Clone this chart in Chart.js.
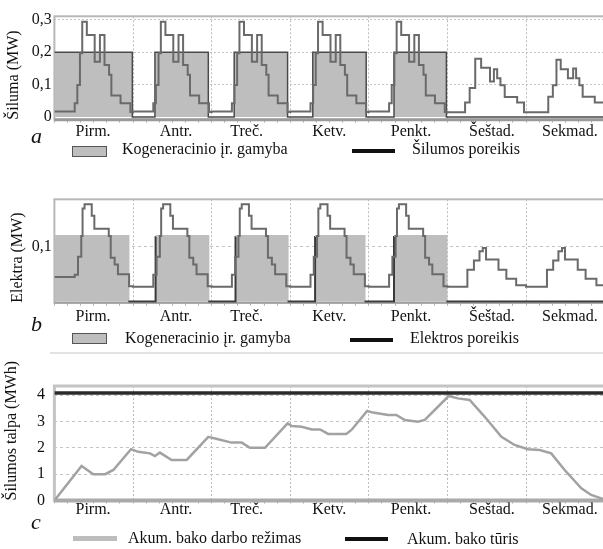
<!DOCTYPE html>
<html><head><meta charset="utf-8">
<script src="https://cdn.jsdelivr.net/npm/chart.js@4.4.0/dist/chart.umd.min.js"></script>
<style>
html,body{margin:0;padding:0;background:#fff;width:603px;height:549px;overflow:hidden;position:relative;font-family:"Liberation Serif","Times New Roman",serif;color:#111;}
canvas{position:absolute;left:0;}
.t{position:absolute;font-size:16px;line-height:16px;white-space:nowrap;}
.l{position:absolute;font-style:italic;font-size:22px;line-height:22px;}
.box{position:absolute;background:#bebebe;border:1px solid #555;box-sizing:border-box;}
.ln{position:absolute;}
</style></head>
<body>
<canvas id="ca" width="610" height="150" style="top:0px"></canvas>
<canvas id="cb" width="610" height="153" style="top:180px"></canvas>
<canvas id="cc" width="610" height="175" style="top:355px"></canvas>

<div class="l" style="left:31px;top:125px">a</div>
<div class="box" style="left:72px;top:146px;width:35px;height:11px"></div>
<div class="t" style="left:122px;top:141px">Kogeneracinio įr. gamyba</div>
<div class="ln" style="left:352px;top:149px;width:43px;height:4px;background:#111"></div>
<div class="t" style="left:412px;top:141px">Šilumos poreikis</div>

<div class="l" style="left:31px;top:313px">b</div>
<div class="box" style="left:72px;top:333px;width:35px;height:11px"></div>
<div class="t" style="left:125px;top:330px">Kogeneracinio įr. gamyba</div>
<div class="ln" style="left:350px;top:338px;width:43px;height:4px;background:#111"></div>
<div class="t" style="left:410px;top:330px">Elektros poreikis</div>
<div class="ln" style="left:50px;top:352px;width:553px;height:2px;background:#e2e2e2"></div>

<div class="l" style="left:31px;top:511px">c</div>
<div class="ln" style="left:73px;top:536px;width:44px;height:5px;background:#bdbdbd"></div>
<div class="t" style="left:128px;top:530px">Akum. bako darbo režimas</div>
<div class="ln" style="left:345px;top:537px;width:43px;height:4px;background:#111"></div>
<div class="t" style="left:407px;top:531px">Akum. bako tūris</div>

<script>
// ---------- data ----------
const dayNames = ['Pirm.', 'Antr.', 'Treč.', 'Ketv.', 'Penkt.', 'Šeštad.', 'Sekmad.'];
const dayLabelHours = [11.8, 37.1, 58.7, 83.9, 108.9, 133.6, 157.4];
const dayBoundaries = [0, 24, 48, 72, 96, 120, 144, 168];
const minorTickHours = [4, 8, 12, 16, 20, 28, 32, 36, 40, 44, 52, 56, 60, 64, 68, 76, 80, 84, 88, 92, 100, 104, 108, 112, 116, 124, 128, 132, 136, 140, 148, 152, 156, 160, 164];

// heat demand, MW: [hour of day, level held until next step]
const heatWeekday = [[0,0.017],[6.2,0.043],[7.0,0.099],[7.8,0.197],[8.5,0.294],[9.9,0.253],[12.3,0.171],[13.9,0.253],[15.3,0.161],[16.7,0.131],[17.4,0.067],[20.2,0.043],[23.2,0.016]];
const heatSaturday = [[0,0.015],[5.4,0.045],[6.8,0.09],[8.5,0.18],[10.3,0.152],[13.0,0.11],[14.2,0.148],[15.2,0.12],[16.2,0.098],[17.5,0.062],[21.3,0.045],[23.4,0.015]];
const heatSunday = [[0,0.015],[6.8,0.063],[8.2,0.098],[9.3,0.177],[10.6,0.148],[12.8,0.12],[14.4,0.15],[15.3,0.12],[16.3,0.098],[17.3,0.063],[21.0,0.045]];

// electricity demand, MW
const elecMonday = [[0,0.045],[6.2,0.049],[7.2,0.082],[8.2,0.12],[8.6,0.17],[9.2,0.178],[11.4,0.157],[12.2,0.133],[16.6,0.12],[17.2,0.08],[18.4,0.068],[19.4,0.05],[22.8,0.028]];
const elecWeekday = [[0,0.027],[6.2,0.049],[7.2,0.082],[8.2,0.12],[8.6,0.17],[9.2,0.178],[11.4,0.157],[12.2,0.133],[16.6,0.12],[17.2,0.08],[18.4,0.068],[19.4,0.05],[22.8,0.028]];
const elecSaturday = [[0,0.027],[6.1,0.058],[8.1,0.075],[9.8,0.092],[10.8,0.098],[11.8,0.077],[15.6,0.058],[18.0,0.042],[21.0,0.03]];
const elecSunday = [[0,0.027],[6.4,0.058],[8.3,0.075],[9.9,0.092],[11.0,0.098],[11.9,0.077],[15.8,0.058],[18.2,0.042],[21.5,0.03]];

// CHP operation periods [start h, end h] and output levels, MW
const chpHeatPeriods = [[0,23.8],[30.7,47],[54.9,71.2],[78.9,95.2],[103.7,119.7]];
const chpHeatLevel = 0.2;
const chpElecPeriods = [[0,22.6],[30.9,47],[55.3,71.2],[79.6,94.7],[103.7,119.7]];
const chpElecLevel = 0.12;

// storage tank state, MWh: [hour of week, MWh]
const storage = [[0,0],[8.3,1.31],[11.9,1.0],[15.5,1.0],[18,1.16],[23.4,1.95],[25.6,1.85],[29.2,1.79],[30.7,1.69],[32.2,1.82],[35.8,1.54],[40.4,1.54],[47,2.42],[50,2.33],[54.1,2.2],[57.2,2.2],[59.7,2.0],[64.3,2.0],[71.2,2.93],[72.5,2.83],[75.5,2.8],[78.6,2.7],[81.1,2.7],[83.6,2.53],[89.1,2.53],[90.7,2.68],[95.5,3.4],[97.3,3.34],[101.9,3.25],[104.4,3.25],[107,3.06],[111,2.99],[113.1,3.06],[120.4,3.97],[123.2,3.88],[126.8,3.82],[131.4,3.18],[136.5,2.42],[140.5,2.11],[144.6,1.95],[148.2,1.92],[151.7,1.79],[155.8,1.16],[160.9,0.46],[163.9,0.21],[167,0.08],[168,0.04]];
const tankCapacity = 4.08;

const heatTicks = [0, 0.1, 0.2, 0.3];
const elecTicks = [0.1];
const storageTicks = [0, 0.5, 1, 1.5, 2, 2.5, 3, 3.5, 4];

// ---------- build ----------
function weekSteps(days) {
  const pts = [];
  days.forEach((prof, d) => prof.forEach(([h, v]) => pts.push({x: d * 24 + h, y: v})));
  pts.push({x: 168, y: pts[pts.length - 1].y});
  return pts;
}
function onOffSteps(periods, level) {
  const pts = [];
  if (periods[0][0] > 0) pts.push({x: 0, y: 0});
  periods.forEach(([a, b]) => { pts.push({x: a, y: level}); pts.push({x: b, y: 0}); });
  pts.push({x: 168, y: 0});
  return pts;
}
const FONT = {family: '"Liberation Serif", "Times New Roman", serif', size: 16};
const allXTicks = dayBoundaries.concat(dayLabelHours, minorTickHours).sort((a, b) => a - b);

function xScale(h, pad) {
  return {
    type: 'linear', min: 0, max: 168,
    afterBuildTicks: s => { s.ticks = allXTicks.map(v => ({value: v})); },
    afterFit: s => { s.height = h; },
    ticks: {autoSkip: false, maxRotation: 0, minRotation: 0, padding: pad, color: '#111', font: FONT,
      callback: v => { const i = dayLabelHours.indexOf(v); return i >= 0 ? dayNames[i] : ''; }},
    grid: {drawTicks: true, tickLength: 3, tickWidth: 1,
      tickColor: c => (c.tick && dayLabelHours.includes(c.tick.value)) ? 'rgba(0,0,0,0)' : '#b0b0b0',
      lineWidth: 1,
      color: c => (c.tick && dayBoundaries.includes(c.tick.value)) ? '#bcbcbc' : 'rgba(0,0,0,0)'},
    border: {display: false, dash: [2, 2]}
  };
}
function yScale(min, max, ticks, fmt, title, titlePad, tickPad, dash) {
  return {
    min: min, max: max,
    afterBuildTicks: s => { s.ticks = ticks.map(v => ({value: v})); },
    afterFit: s => { s.width = 54.4; },
    ticks: {padding: tickPad, color: '#111', font: FONT, callback: fmt},
    grid: {drawTicks: false, lineWidth: 1, color: c => (c.tick && c.tick.value === 0) ? 'rgba(0,0,0,0)' : '#c4c4c4'},
    border: {display: false, dash: dash},
    title: {display: true, text: title, align: 'start', color: '#111', font: FONT, padding: {top: titlePad, bottom: 0}}
  };
}
const commaFmt = v => String(v).replace('.', ',');

const framePlugin = {
  id: 'frame',
  beforeDatasetsDraw(chart, args, o) {
    const {ctx, chartArea: a} = chart;
    ctx.save();
    ctx.strokeStyle = o.color; ctx.lineWidth = o.width;
    ctx.strokeRect(a.left, a.top, a.right - a.left, a.bottom - a.top);
    ctx.strokeStyle = o.bottomColor; ctx.lineWidth = o.bottomWidth;
    ctx.beginPath(); ctx.moveTo(a.left, a.bottom); ctx.lineTo(a.right, a.bottom); ctx.stroke();
    ctx.restore();
  }
};
Chart.register(framePlugin);

function baseOpts(padTop, padRight) {
  return {
    responsive: false, animation: false, devicePixelRatio: 1,
    layout: {padding: {top: padTop, right: padRight, left: 0, bottom: 0}},
    plugins: {legend: {display: false}, tooltip: {enabled: false}},
    elements: {point: {radius: 0}}
  };
}

// panel a
const optsA = baseOpts(16.3, 5.4);
optsA.scales = {x: xScale(30.3, -1), y: yScale(-0.008, 0.311, heatTicks, commaFmt, 'Šiluma (MW)', 4.5, 2.7, [2, 2])};
optsA.plugins.frame = {color: '#b8b8b8', width: 2, bottomColor: '#9a9a9a', bottomWidth: 3};
new Chart(document.getElementById('ca'), {
  type: 'line',
  data: {datasets: [
    {data: weekSteps([heatWeekday, heatWeekday, heatWeekday, heatWeekday, heatWeekday, heatSaturday, heatSunday]),
     stepped: true, borderColor: '#6a6a6a', borderWidth: 2, fill: false, order: 0},
    {data: onOffSteps(chpHeatPeriods, chpHeatLevel), stepped: true, borderColor: '#4a4a4a', borderWidth: 1.5,
     backgroundColor: '#bebebe', fill: 'origin', order: 1}
  ]},
  options: optsA
});

// panel b
const optsB = baseOpts(19.3, 5.4);
optsB.scales = {x: xScale(30.3, 1.3), y: yScale(-0.002, 0.187, elecTicks, commaFmt, 'Elektra (MW)', 8.3, 2.7, [3, 3])};
optsB.plugins.frame = {color: '#b8b8b8', width: 2, bottomColor: '#a0a0a0', bottomWidth: 2};
new Chart(document.getElementById('cb'), {
  type: 'line',
  data: {datasets: [
    {data: weekSteps([elecMonday, elecWeekday, elecWeekday, elecWeekday, elecWeekday, elecSaturday, elecSunday]),
     stepped: true, borderColor: '#6a6a6a', borderWidth: 2, fill: false, order: 0},
    {data: onOffSteps(chpElecPeriods, chpElecLevel), stepped: true, borderWidth: 2,
     segment: {borderColor: c => c.p0.parsed.y > 0 ? 'rgba(190,190,190,1)' : '#3a3a3a'},
     backgroundColor: '#bebebe', fill: 'origin', order: 1}
  ]},
  options: optsB
});

// panel c
const optsC = baseOpts(31, 5.4);
optsC.scales = {x: xScale(29.5, -3),
  y: yScale(0, 4.35, storageTicks, v => Number.isInteger(v) ? String(v) : '', 'Šilumos talpa (MWh)', 1.7, 9.4, [3, 3])};
optsC.plugins.frame = {color: '#c4c4c4', width: 3, bottomColor: '#aaaaaa', bottomWidth: 4};
new Chart(document.getElementById('cc'), {
  type: 'line',
  data: {datasets: [
    {data: storage.map(([h, v]) => ({x: h, y: v})), borderColor: '#a2a2a2', borderWidth: 2.5, fill: false, tension: 0, order: 1},
    {data: [{x: 0, y: tankCapacity}, {x: 168, y: tankCapacity}], borderColor: '#2a2a2a', borderWidth: 3.5, fill: false, order: 0}
  ]},
  options: optsC
});
</script>
</body></html>
